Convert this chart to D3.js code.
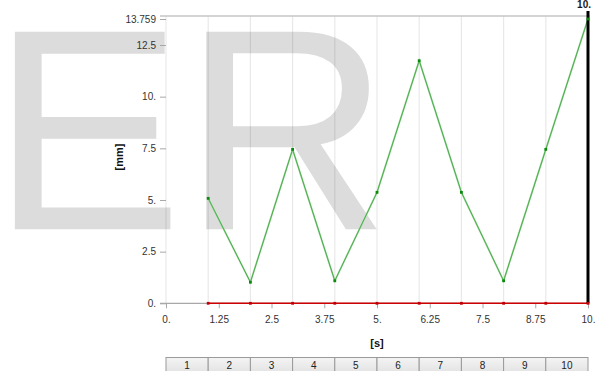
<!DOCTYPE html>
<html>
<head>
<meta charset="utf-8">
<script src="https://cdn.jsdelivr.net/npm/d3@7"></script>
<style>
  html, body { margin: 0; padding: 0; background: #fff; }
  svg { display: block; font-family: "Liberation Sans", Arial, sans-serif; }
</style>
</head>
<body>
<svg id="chart" width="596" height="371"></svg>
<script>
// Time steps and results per step
const steps = [1, 2, 3, 4, 5, 6, 7, 8, 9, 10];
const deformation = [5.08, 1.02, 7.45, 1.09, 5.37, 11.74, 5.37, 1.09, 7.45, 13.759];
const minimum = [0, 0, 0, 0, 0, 0, 0, 0, 0, 0];
const xTicks = [0, 1.25, 2.5, 3.75, 5, 6.25, 7.5, 8.75, 10];
const xTickLabels = ["0.", "1.25", "2.5", "3.75", "5.", "6.25", "7.5", "8.75", "10."];
const yTicks = [0, 2.5, 5, 7.5, 10, 12.5, 13.759];
const yTickLabels = ["0.", "2.5", "5.", "7.5", "10.", "12.5", "13.759"];
const stepLabels = ["1", "2", "3", "4", "5", "6", "7", "8", "9", "10"];
const yMax = 13.759;
const cursorStep = 10;

const svg = d3.select("#chart");
const x = d3.scaleLinear().domain([0, 10]).range([166, 588]);
const y = d3.scaleLinear().domain([0, yMax]).range([303.3, 19]);

// Background watermark
svg.append("text")
  .attr("x", -8.7).attr("y", 229.3)
  .attr("font-size", 287)
  .attr("fill", "#dcdcdc")
  .text("ER");

// Vertical grid at each step (and the time origin)
svg.append("g").selectAll("line")
  .data([0].concat(steps.slice(0, -1)))
  .join("line")
  .attr("x1", d => x(d)).attr("x2", d => x(d))
  .attr("y1", 16).attr("y2", y(0))
  .attr("stroke", "rgba(0,0,0,0.09)")
  .attr("stroke-width", 1.2);

// Top frame line
svg.append("line")
  .attr("x1", 160).attr("x2", 590)
  .attr("y1", 16).attr("y2", 16)
  .attr("stroke", "#c6c6c6").attr("stroke-width", 1.5);

// Y axis ticks and labels
const yAxis = d3.axisLeft(y)
  .tickValues(yTicks)
  .tickFormat((d, i) => yTickLabels[i])
  .tickSize(6)
  .tickPadding(4);
const gy = svg.append("g").attr("transform", `translate(${x(0)},0)`).call(yAxis);
gy.select(".domain").remove();
gy.selectAll(".tick line").attr("stroke", "#a8a8a8");
gy.selectAll(".tick text").attr("font-size", 10).attr("fill", "#333")
  .attr("font-family", "Liberation Sans, Arial, sans-serif");

// X axis
const xAxis = d3.axisBottom(x)
  .tickValues(xTicks)
  .tickFormat((d, i) => xTickLabels[i])
  .tickSize(5)
  .tickPadding(8);
const gx = svg.append("g").attr("transform", `translate(0,${y(0)})`).call(xAxis);
gx.select(".domain").remove();
gx.selectAll(".tick line").attr("stroke", "#a8a8a8");
gx.selectAll(".tick text").attr("font-size", 10).attr("fill", "#333")
  .attr("font-family", "Liberation Sans, Arial, sans-serif");
svg.append("line")
  .attr("x1", 160).attr("x2", x(10))
  .attr("y1", y(0)).attr("y2", y(0))
  .attr("stroke", "#a8a8a8").attr("stroke-width", 1.2);

// Axis titles
svg.append("text")
  .attr("transform", `translate(123,157) rotate(-90)`)
  .attr("text-anchor", "middle")
  .attr("font-size", 11).attr("font-weight", "bold").attr("fill", "#111")
  .text("[mm]");
svg.append("text")
  .attr("x", x(5)).attr("y", 347)
  .attr("text-anchor", "middle")
  .attr("font-size", 11).attr("font-weight", "bold").attr("fill", "#111")
  .text("[s]");

// Maximum series (green)
const line = d3.line().x((d, i) => x(steps[i])).y(d => y(d));
svg.append("path").datum(deformation).attr("d", line)
  .attr("fill", "none").attr("stroke", "#a3dca3").attr("stroke-width", 1.8);
svg.append("path").datum(deformation).attr("d", line)
  .attr("fill", "none").attr("stroke", "#2a962a").attr("stroke-width", 0.7);

// Minimum series (red)
svg.append("path").datum(minimum).attr("d", line)
  .attr("fill", "none").attr("stroke", "#cc0000").attr("stroke-width", 1.4);

// Cursor at the current step
svg.append("line")
  .attr("x1", x(cursorStep)).attr("x2", x(cursorStep))
  .attr("y1", 11).attr("y2", y(0))
  .attr("stroke", "#000").attr("stroke-width", 3);
svg.append("text")
  .attr("x", x(cursorStep) + 3).attr("y", 8)
  .attr("text-anchor", "end")
  .attr("font-size", 10).attr("font-weight", "bold").attr("fill", "#1a1a1a")
  .text("10.");

// Markers
svg.append("g").selectAll("rect")
  .data(deformation).join("rect")
  .attr("x", (d, i) => x(steps[i]) - 1.4).attr("y", d => y(d) - 1.4)
  .attr("width", 2.8).attr("height", 2.8)
  .attr("fill", "#0a8a0a");
svg.append("g").selectAll("rect")
  .data(minimum).join("rect")
  .attr("x", (d, i) => x(steps[i]) - 1.4).attr("y", d => y(d) - 1.4)
  .attr("width", 2.8).attr("height", 2.8)
  .attr("fill", "#c00000");

// Step table beneath the chart
const defs = svg.append("defs");
const grad = defs.append("linearGradient").attr("id", "cellFill")
  .attr("x1", 0).attr("y1", 0).attr("x2", 0).attr("y2", 1);
grad.append("stop").attr("offset", "0%").attr("stop-color", "#f4f4f4");
grad.append("stop").attr("offset", "100%").attr("stop-color", "#e2e2e2");

const cells = svg.append("g").selectAll("g")
  .data(stepLabels).join("g");
cells.append("rect")
  .attr("x", (d, i) => x(i)).attr("y", 357.5)
  .attr("width", (d, i) => x(i + 1) - x(i)).attr("height", 16)
  .attr("fill", "url(#cellFill)")
  .attr("stroke", "#9a9a9a").attr("stroke-width", 1);
cells.append("text")
  .attr("x", (d, i) => (x(i) + x(i + 1)) / 2).attr("y", 368.5)
  .attr("text-anchor", "middle")
  .attr("font-size", 10).attr("fill", "#222")
  .text(d => d);
</script>
</body>
</html>
